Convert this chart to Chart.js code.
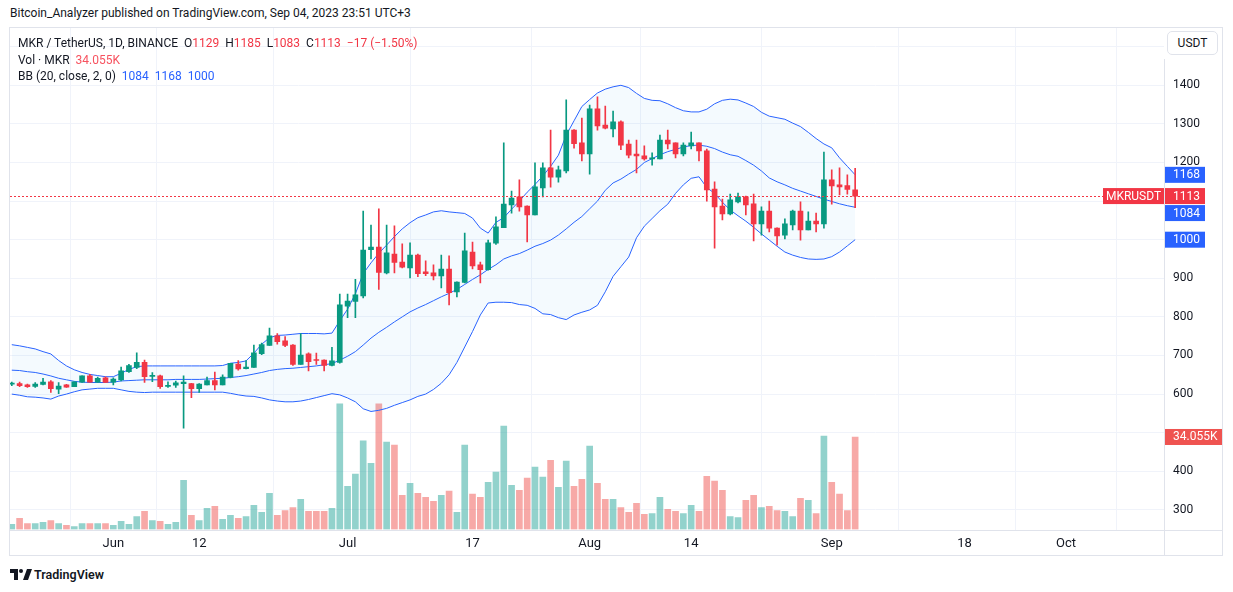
<!DOCTYPE html>
<html>
<head>
<meta charset="utf-8">
<title>MKR / TetherUS</title>
<script src="https://cdn.jsdelivr.net/npm/chart.js@4.4.0/dist/chart.umd.min.js"></script>
<style>
  body { margin: 0; background: #fff; font-family: Roboto, "Noto Sans", sans-serif; color: #131722; }
  #page { position: relative; width: 1233px; height: 592px; overflow: hidden; }
  #byline { position: absolute; left: 10px; top: 6px; font-size: 12px; white-space: nowrap; }
  #frame { position: absolute; left: 9px; top: 27px; width: 1214px; height: 529px; border: 1px solid #e0e3eb; box-sizing: border-box; }
  #wrap { position: absolute; left: 10px; top: 28px; width: 1212px; height: 527px; }
  .legend { position: absolute; left: 18px; font-size: 12px; white-space: nowrap; line-height: 16px; }
  .red { color: #f23645; }
  .vol { color: #f7525f; }
  .blue { color: #2962ff; }
  #usdt { position: absolute; left: 1167px; top: 31px; width: 51px; height: 24px; border: 1px solid #e0e3eb; border-radius: 5px;
          box-sizing: border-box; font-size: 12px; text-align: center; line-height: 22px; background: #fff; }
  #footer { position: absolute; left: 10px; top: 567px; font-size: 12.5px; font-weight: 600; white-space: nowrap; }
  #footer svg { vertical-align: -1px; margin-right: 2px; }
</style>
</head>
<body>
<div id="page">
  <div id="byline">Bitcoin_Analyzer published on TradingView.com, Sep 04, 2023 23:51 UTC+3</div>
  <div id="frame"></div>
  <div id="wrap"><canvas id="chart" width="1212" height="527"></canvas></div>
  <div class="legend" id="leg1" style="top:35px"></div>
  <div class="legend" id="leg2" style="top:52px"></div>
  <div class="legend" id="leg3" style="top:68px"></div>
  <div id="usdt">USDT</div>
  <div id="footer"><svg width="22" height="11" viewBox="0 0 22 11"><path d="M0 0H8V11H4V4H0Z" fill="#131722"/><circle cx="11" cy="2" r="2" fill="#131722"/><path d="M13 11L17 0H22L18 11Z" fill="#131722"/></svg>TradingView</div>
</div>
<script>
// daily candles, May 19 (index 0) .. Sep 04 2023 (index 108)
const opens = [626, 627, 624, 620, 625, 632, 613, 624, 619, 631,
  647, 631, 642, 631, 637, 658, 669, 682, 646, 647,
  620, 623, 627, 627, 614, 624, 635, 624, 643, 678,
  666, 669, 705, 726, 751, 738, 727, 677, 704, 688,
  688, 674, 682, 828, 840, 854, 974, 981, 914, 963,
  942, 927, 960, 917, 914, 906, 924, 865, 889, 968,
  935, 922, 991, 1031, 1090, 1111, 1087, 1064, 1134, 1186,
  1162, 1178, 1284, 1251, 1222, 1339, 1297, 1287, 1305, 1248,
  1222, 1217, 1209, 1209, 1258, 1251, 1222, 1243, 1251, 1230,
  1131, 1087, 1067, 1098, 1111, 1093, 1041, 1074, 1030, 1012,
  1038, 1074, 1025, 1048, 1041, 1155, 1142, 1140, 1129];
const highs = [631, 631, 626, 630, 641, 635, 630, 625, 632, 647,
  651, 644, 645, 642, 670, 677, 707, 688, 656, 649,
  632, 634, 647, 628, 627, 644, 657, 650, 680, 687,
  687, 727, 732, 771, 757, 749, 728, 757, 707, 706,
  689, 721, 859, 859, 897, 1074, 1038, 1080, 1038, 1036,
  989, 992, 963, 945, 935, 960, 958, 891, 1017, 994,
  942, 999, 1059, 1251, 1126, 1155, 1088, 1199, 1199, 1284,
  1191, 1362, 1285, 1315, 1349, 1370, 1346, 1333, 1308, 1258,
  1258, 1243, 1225, 1271, 1284, 1251, 1251, 1279, 1251, 1235,
  1150, 1105, 1118, 1121, 1113, 1118, 1085, 1100, 1031, 1054,
  1077, 1098, 1072, 1069, 1227, 1181, 1186, 1168, 1185];
const lows = [622, 619, 617, 617, 624, 604, 601, 617, 619, 630,
  631, 630, 630, 624, 634, 656, 666, 630, 632, 615,
  617, 617, 512, 591, 604, 624, 611, 624, 642, 662,
  665, 669, 702, 726, 729, 723, 674, 677, 660, 677,
  660, 673, 680, 798, 798, 849, 950, 871, 911, 914,
  927, 901, 904, 907, 896, 875, 831, 852, 888, 924,
  888, 921, 988, 1031, 1069, 1074, 994, 1064, 1111, 1136,
  1149, 1173, 1237, 1204, 1170, 1284, 1287, 1266, 1233, 1212,
  1173, 1206, 1193, 1209, 1235, 1212, 1217, 1235, 1204, 1100,
  978, 1051, 1064, 1095, 1064, 997, 1012, 1020, 986, 1002,
  1025, 999, 1025, 1020, 1030, 1092, 1116, 1118, 1083];
const closes = [628, 622, 619, 626, 631, 614, 621, 618, 632, 647,
  631, 641, 630, 639, 660, 674, 682, 645, 647, 619,
  622, 629, 631, 614, 626, 635, 624, 644, 680, 665,
  670, 707, 728, 751, 736, 726, 677, 701, 684, 687,
  674, 686, 831, 841, 857, 973, 981, 915, 966, 941,
  929, 960, 912, 912, 906, 924, 863, 890, 971, 932,
  922, 992, 1033, 1092, 1108, 1085, 1064, 1137, 1186, 1162,
  1181, 1284, 1249, 1222, 1339, 1295, 1289, 1305, 1245, 1219,
  1217, 1209, 1212, 1258, 1248, 1222, 1245, 1251, 1230, 1129,
  1085, 1067, 1103, 1111, 1090, 1041, 1074, 1030, 1010, 1041,
  1074, 1025, 1048, 1041, 1155, 1139, 1137, 1130, 1113];
// volume in thousands of MKR
const volumes = [1.9, 4.1, 2.2, 2.2, 2.6, 3.3, 2.2, 1.5, 1.1, 2.2,
  2.2, 2.2, 2.2, 1.5, 3.0, 1.9, 4.8, 6.7, 3.3, 3.0,
  1.9, 2.6, 18.1, 5.2, 3.3, 7.8, 8.5, 3.7, 5.2, 4.1,
  4.8, 8.9, 6.3, 13.3, 5.2, 7.0, 8.1, 11.1, 6.7, 6.7,
  6.7, 7.8, 46.3, 15.9, 20.4, 32.6, 24.4, 46.3, 32.2, 31.1,
  12.6, 17.0, 13.3, 11.8, 10.4, 12.6, 14.1, 6.3, 31.1, 13.0,
  11.8, 17.4, 21.1, 38.1, 16.3, 14.4, 18.9, 23.0, 19.3, 25.5,
  15.5, 25.2, 15.9, 18.5, 30.7, 17.0, 11.1, 11.1, 8.1, 6.3,
  9.6, 5.6, 5.9, 11.8, 7.4, 6.7, 5.9, 8.9, 6.7, 19.6,
  17.8, 14.4, 4.8, 4.4, 10.7, 12.6, 8.1, 8.5, 7.0, 6.7,
  4.8, 11.5, 10.7, 5.9, 34.4, 17.4, 13.0, 7.0, 34.055];
// Bollinger bands (20, close, 2)
const bbUpper = [728, 725, 721, 717, 710, 704, 687, 673, 663, 656,
  651, 648, 645, 645, 654, 664, 671, 673, 673, 673,
  673, 673, 673, 673, 673, 673, 673, 674, 680, 682,
  686, 706, 729, 746, 752, 753, 755, 757, 757, 757,
  756, 758, 790, 820, 860, 912, 940, 965, 986, 1008,
  1028, 1044, 1057, 1064, 1072, 1075, 1072, 1070, 1068, 1056,
  1030, 1017, 1045, 1057, 1079, 1100, 1123, 1143, 1165, 1190,
  1219, 1271, 1308, 1345, 1363, 1380, 1390, 1396, 1400, 1394,
  1379, 1366, 1361, 1360, 1352, 1342, 1334, 1331, 1331, 1338,
  1352, 1361, 1364, 1362, 1354, 1345, 1330, 1320, 1316, 1312,
  1302, 1293, 1278, 1262, 1248, 1238, 1212, 1190, 1168];
const bbBasis = [662, 661, 658, 656, 652, 647, 641, 637, 633, 631,
  630, 630, 630, 631, 634, 635, 636, 637, 637, 637,
  637, 638, 638, 638, 638, 639, 640, 641, 643, 645,
  648, 652, 656, 661, 664, 666, 667, 669, 671, 673,
  676, 679, 688, 698, 710, 727, 745, 760, 773, 787,
  800, 813, 823, 832, 842, 852, 861, 871, 884, 897,
  909, 923, 935, 950, 958, 964, 973, 983, 990, 999,
  1012, 1028, 1045, 1060, 1080, 1100, 1128, 1147, 1157, 1170,
  1182, 1200, 1210, 1220, 1228, 1234, 1240, 1244, 1245, 1242,
  1236, 1227, 1220, 1216, 1205, 1193, 1178, 1160, 1150, 1142,
  1133, 1126, 1119, 1112, 1105, 1099, 1093, 1088, 1084];
const bbLower = [600, 597, 593, 592, 590, 587, 595, 600, 606, 611,
  613, 615, 615, 615, 611, 607, 605, 604, 605, 605,
  605, 605, 605, 605, 605, 605, 605, 605, 602, 598,
  595, 594, 590, 585, 582, 580, 580, 582, 586, 591,
  596, 601, 598, 590, 580, 562, 555, 558, 563, 571,
  578, 585, 594, 600, 612, 628, 650, 682, 722, 762,
  805, 836, 838, 838, 837, 832, 830, 822, 808, 806,
  798, 793, 805, 812, 818, 830, 865, 905, 930, 955,
  1005, 1035, 1055, 1075, 1092, 1120, 1142, 1159, 1163, 1135,
  1120, 1097, 1077, 1062, 1048, 1032, 1015, 999, 983, 968,
  960, 954, 950, 949, 950, 956, 968, 984, 1000];

const tickDays = [13, 24, 43, 59, 74, 87, 105, 122, 135];
const tickLabels = ['Jun', '12', 'Jul', '17', 'Aug', '14', 'Sep', '18', 'Oct'];
const priceTicks = [300, 400, 500, 600, 700, 800, 900, 1000, 1100, 1200, 1300, 1400, 1500];
// labels hidden behind the volume tag and the currency button
const hiddenPriceLabels = [500, 1500];

const GREEN = '#089981';
const RED = '#f23645';
const FONT = 'Roboto, "Noto Sans", sans-serif';

const days = opens.map((_, i) => i);
const last = days.length - 1;
const isUp = i => closes[i] >= opens[i];
const candleColors = days.map(i => isUp(i) ? GREEN : RED);
const volColors = days.map(i => isUp(i) ? 'rgba(38,166,154,0.5)' : 'rgba(239,83,80,0.5)');

// legend text
const chg = closes[last] - closes[last - 1];
const pct = (chg / closes[last - 1] * 100).toFixed(2);
const minus = v => String(v).replace('-', '\u2212');
document.getElementById('leg1').innerHTML =
  'MKR / TetherUS, 1D, BINANCE&nbsp;&nbsp;O<span class="red">' + opens[last] + '</span>&nbsp;&nbsp;H<span class="red">' + highs[last] +
  '</span>&nbsp;&nbsp;L<span class="red">' + lows[last] + '</span>&nbsp;&nbsp;C<span class="red">' + closes[last] +
  '&nbsp;&nbsp;' + minus(chg) + ' (' + minus(pct) + '%)</span>';
document.getElementById('leg2').innerHTML = 'Vol · MKR&nbsp;&nbsp;<span class="vol">' + volumes[last].toFixed(3) + 'K</span>';
document.getElementById('leg3').innerHTML = 'BB (20, close, 2, 0)&nbsp;&nbsp;<span class="blue">' + bbBasis[last] +
  '&nbsp;&nbsp;' + bbUpper[last] + '&nbsp;&nbsp;' + bbLower[last] + '</span>';

function bandLine(values, fill) {
  return {
    type: 'line',
    data: days.map(i => ({ x: i, y: values[i] })),
    borderColor: '#2962ff',
    borderWidth: 1,
    pointRadius: 0,
    tension: 0,
    fill: fill,
    backgroundColor: 'rgba(33,150,243,0.05)',
    yAxisID: 'y',
    order: 3
  };
}

// no extra room for edge labels, the plot runs to the frame
function noPadding(s) {
  s.paddingTop = 0;
  s.paddingBottom = 0;
  s.paddingLeft = 0;
  s.paddingRight = 0;
}

// price line, separators and right-axis value boxes
const overlay = {
  id: 'overlay',
  afterDraw(chart) {
    const ctx = chart.ctx;
    const area = chart.chartArea;
    const y = chart.scales.y;
    const vol = chart.scales.vol;
    ctx.save();

    ctx.strokeStyle = '#e0e3eb';
    ctx.lineWidth = 1;
    ctx.beginPath();
    ctx.moveTo(0, Math.round(area.bottom) + 0.5);
    ctx.lineTo(chart.width, Math.round(area.bottom) + 0.5);
    ctx.moveTo(Math.round(area.right) + 0.5, 31);
    ctx.lineTo(Math.round(area.right) + 0.5, chart.height);
    ctx.stroke();

    const py = Math.round(y.getPixelForValue(closes[last])) + 0.5;
    ctx.strokeStyle = RED;
    ctx.setLineDash([2, 2]);
    ctx.beginPath();
    ctx.moveTo(area.left, py);
    ctx.lineTo(area.right - 61, py);
    ctx.stroke();
    ctx.setLineDash([]);

    const boxes = [
      { v: bbUpper[last], c: '#2962ff', t: String(bbUpper[last]) },
      { v: closes[last], c: RED, t: String(closes[last]), tag: true },
      { v: bbBasis[last], c: '#2962ff', t: String(bbBasis[last]) },
      { v: bbLower[last], c: '#2962ff', t: String(bbLower[last]) }
    ];
    ctx.font = '12px ' + FONT;
    ctx.textBaseline = 'middle';
    let prevBottom = -1e9;
    boxes.forEach(b => {
      let top = y.getPixelForValue(b.v) - 8;
      if (top < prevBottom + 1) top = prevBottom + 1;
      prevBottom = top + 16;
      ctx.fillStyle = b.c;
      ctx.fillRect(area.right + 1, top, 40, 16);
      ctx.fillStyle = '#fff';
      ctx.textAlign = 'left';
      ctx.fillText(b.t, area.right + 9, top + 8.5);
      if (b.tag) {
        ctx.fillStyle = RED;
        ctx.fillRect(area.right - 61, top, 61, 16);
        ctx.fillStyle = '#fff';
        ctx.textAlign = 'center';
        ctx.fillText('MKRUSDT', area.right - 30.5, top + 8.5);
      }
    });

    const vy = vol.getPixelForValue(volumes[last]) - 8;
    ctx.fillStyle = '#ef5350';
    ctx.fillRect(area.right + 1, vy, 57, 16);
    ctx.fillStyle = '#fff';
    ctx.textAlign = 'left';
    ctx.fillText(volumes[last].toFixed(3) + 'K', area.right + 9, vy + 8.5);
    ctx.restore();
  }
};

new Chart(document.getElementById('chart'), {
  type: 'bar',
  data: {
    datasets: [
      bandLine(bbUpper, '+2'),
      bandLine(bbBasis, false),
      bandLine(bbLower, false),
      {
        type: 'bar',
        data: days.map(i => ({ x: i, y: volumes[i] })),
        backgroundColor: volColors,
        barThickness: 6,
        grouped: false,
        yAxisID: 'vol',
        order: 5
      },
      {
        type: 'bar',
        data: days.map(i => ({ x: i, y: [lows[i], highs[i]] })),
        backgroundColor: candleColors,
        barThickness: 1,
        grouped: false,
        yAxisID: 'y',
        order: 2
      },
      {
        type: 'bar',
        data: days.map(i => ({ x: i, y: [opens[i], closes[i]] })),
        backgroundColor: candleColors,
        barThickness: 5,
        minBarLength: 1,
        grouped: false,
        yAxisID: 'y',
        order: 1
      }
    ]
  },
  options: {
    responsive: false,
    animation: false,
    layout: { padding: 0 },
    plugins: { legend: { display: false }, tooltip: { enabled: false } },
    events: [],
    scales: {
      x: {
        type: 'linear',
        min: -0.23,
        max: 147.55,
        offset: false,
        afterBuildTicks: s => { s.ticks = tickDays.map(v => ({ value: v })); },
        afterFit: s => { s.height = 25.5; noPadding(s); },
        ticks: {
          callback: v => tickLabels[tickDays.indexOf(v)],
          color: '#131722',
          font: { size: 13, family: FONT },
          padding: 6,
          maxRotation: 0,
          autoSkip: false
        },
        grid: { color: '#f0f3fa', drawTicks: false },
        border: { display: false }
      },
      y: {
        position: 'right',
        min: 249.2,
        max: 1548.4,
        afterBuildTicks: s => { s.ticks = priceTicks.map(v => ({ value: v })); },
        afterFit: s => { s.width = 58; noPadding(s); },
        ticks: {
          callback: v => hiddenPriceLabels.includes(v) ? '' : String(v),
          color: '#131722',
          font: { size: 12, family: FONT },
          padding: 9
        },
        grid: { color: '#f0f3fa', drawTicks: false },
        border: { display: false }
      },
      vol: {
        display: false,
        min: 0,
        max: 184.6
      }
    }
  },
  plugins: [overlay]
});
</script>
</body>
</html>
